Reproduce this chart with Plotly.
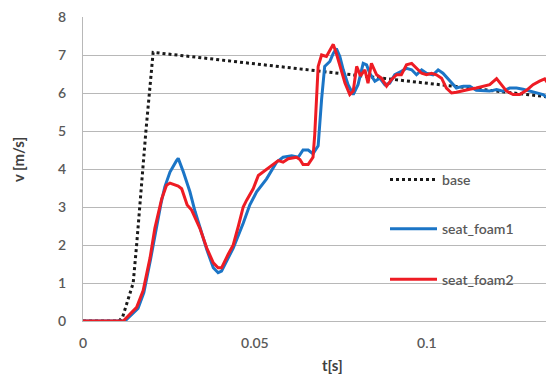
import plotly.graph_objects as go

# ---- data ----
base_t = [0.0, 0.0105, 0.0115, 0.0127, 0.0137, 0.0146, 0.0156, 0.0164, 0.0174, 0.0183, 0.0193, 0.0204, 0.137]
base_v = [0.0, 0.0, 0.1, 0.45, 0.75, 1.0, 2.0, 3.0, 4.0, 5.0, 6.0, 7.07, 5.88]

foam1_t = [0.0, 0.0122, 0.0160, 0.0177, 0.0196, 0.0212, 0.0227, 0.0238, 0.0253, 0.0272, 0.0277,
           0.0292, 0.0311, 0.0326, 0.0340, 0.0360, 0.0379, 0.0393, 0.0403, 0.0422, 0.0437, 0.0466,
           0.0485, 0.0505, 0.0534, 0.0563, 0.0582, 0.0607, 0.0626, 0.0640, 0.0655, 0.0669, 0.0684,
           0.0694, 0.0703, 0.0718, 0.0728, 0.0737, 0.0747, 0.0757, 0.0771, 0.0786, 0.0800, 0.0815,
           0.0825, 0.0834, 0.0849, 0.0863, 0.0878, 0.0892, 0.0907, 0.0926, 0.0941, 0.0956, 0.0970,
           0.0985, 0.0999, 0.1018, 0.1033, 0.1047, 0.1067, 0.1086, 0.1106, 0.1125, 0.1144, 0.1164,
           0.1183, 0.1203, 0.1222, 0.1241, 0.1261, 0.1280, 0.1299, 0.1319, 0.1338, 0.1352, 0.1367]
foam1_v = [0.0, 0.0, 0.33, 0.75, 1.6, 2.4, 3.1, 3.53, 3.92, 4.22, 4.28,
           3.92, 3.40, 2.88, 2.44, 1.88, 1.40, 1.27, 1.31, 1.66, 1.92, 2.57,
           3.05, 3.40, 3.74, 4.18, 4.31, 4.35, 4.31, 4.50, 4.50, 4.40, 4.61,
           5.83, 6.70, 6.83, 7.04, 7.17, 6.96, 6.61, 6.22, 5.96, 6.22, 6.78,
           6.74, 6.52, 6.31, 6.39, 6.22, 6.26, 6.48, 6.57, 6.65, 6.61, 6.48,
           6.61, 6.52, 6.48, 6.61, 6.52, 6.31, 6.13, 6.18, 6.18, 6.07, 6.05,
           6.05, 6.09, 6.05, 6.13, 6.13, 6.10, 6.05, 6.00, 5.96, 5.87, 5.70]

foam2_t = [0.0, 0.0117, 0.0156, 0.0175, 0.0195, 0.0209, 0.0229, 0.0243, 0.0253, 0.0277, 0.0287,
           0.0303, 0.0316, 0.0340, 0.0360, 0.0379, 0.0393, 0.0403, 0.0422, 0.0437, 0.0452, 0.0466, 0.0476,
           0.0495, 0.0510, 0.0534, 0.0568, 0.0582, 0.0597, 0.0621, 0.0631, 0.0640, 0.0655, 0.0669,
           0.0674, 0.0684, 0.0694, 0.0708, 0.0718, 0.0728, 0.0737, 0.0747, 0.0762, 0.0776, 0.0786,
           0.0796, 0.0807, 0.0820, 0.0829, 0.0839, 0.0854, 0.0868, 0.0883, 0.0897, 0.0912, 0.0926,
           0.0941, 0.0956, 0.0970, 0.0985, 0.0999, 0.1014, 0.1028, 0.1043, 0.1057, 0.1072, 0.1086,
           0.1106, 0.1125, 0.1144, 0.1164, 0.1183, 0.1203, 0.1217, 0.1232, 0.1251, 0.1270, 0.1290,
           0.1309, 0.1328, 0.1343, 0.1358, 0.1369]
foam2_v = [0.0, 0.0, 0.36, 0.80, 1.66, 2.44, 3.22, 3.57, 3.63, 3.55, 3.48,
           3.05, 2.92, 2.44, 1.92, 1.53, 1.40, 1.40, 1.75, 2.00, 2.50, 3.00, 3.18,
           3.48, 3.83, 4.00, 4.22, 4.18, 4.27, 4.31, 4.25, 4.12, 4.12, 4.31,
           4.90, 6.70, 7.00, 6.96, 7.13, 7.28, 7.04, 6.70, 6.26, 5.96, 6.05,
           6.70, 6.45, 6.61, 6.26, 6.78, 6.48, 6.39, 6.18, 6.35, 6.48, 6.48,
           6.74, 6.78, 6.65, 6.52, 6.48, 6.52, 6.48, 6.39, 6.13, 6.00, 6.02,
           6.07, 6.10, 6.13, 6.18, 6.22, 6.38, 6.22, 6.05, 5.96, 5.96, 6.07,
           6.22, 6.31, 6.37, 6.18, 6.02]

x_tickvals = [0, 0.05, 0.1]
x_ticktext = ["0", "0.05", "0.1"]
y_tickvals = [0, 1, 2, 3, 4, 5, 6, 7, 8]

FONT = "Lato"
TICK_COLOR = "#595959"
GRID = "#b8b8b8"

# the page puts the figure at an 8px offset, so the figure is 8px smaller
W, H = 546, 370
ML, MT, MB = 75, 5, 57
PW, PH = W - ML, H - MT - MB  # 471 x 308


def px_x(px):  # reference pixel -> paper x
    return (px - 8 - ML) / PW


def px_y(py):  # reference pixel -> paper y
    return (H - MB - (py - 8)) / PH


fig = go.Figure()
fig.add_trace(go.Scatter(x=base_t, y=base_v, name="base", mode="lines",
                         line=dict(color="#1a1a1a", width=3, dash="dot"), legend="legend"))
fig.add_trace(go.Scatter(x=foam1_t, y=foam1_v, name="seat_foam1", mode="lines",
                         line=dict(color="#1b75c6", width=3), legend="legend2"))
fig.add_trace(go.Scatter(x=foam2_t, y=foam2_v, name="seat_foam2", mode="lines",
                         line=dict(color="#ee1c24", width=3), legend="legend3"))

leg_common = dict(x=px_x(385), xanchor="left", yanchor="middle", bgcolor="rgba(255,255,255,0)",
                  font=dict(family=FONT, size=14, color=TICK_COLOR, weight=600), itemwidth=47,
                  borderwidth=0)
fig.update_layout(
    width=W, height=H,
    margin=dict(l=ML, r=0, t=MT, b=MB),
    paper_bgcolor="white", plot_bgcolor="white",
    showlegend=True,
    legend=dict(y=px_y(178), **leg_common),
    legend2=dict(y=px_y(228), **leg_common),
    legend3=dict(y=px_y(279), **leg_common),
    font=dict(family=FONT, size=14, color=TICK_COLOR),
)
fig.update_xaxes(range=[0, 0.137], tickvals=x_tickvals, ticktext=x_ticktext,
                 showgrid=False, zeroline=False, showline=True, linecolor=GRID, linewidth=1,
                 ticks="outside", ticklen=9, tickcolor="rgba(0,0,0,0)", ticklabeloverflow="allow",
                 tickfont=dict(family=FONT, size=14, color=TICK_COLOR, weight=600))
fig.update_yaxes(range=[0, 8], tickvals=y_tickvals,
                 showgrid=True, gridcolor=GRID, gridwidth=1, zeroline=False,
                 showline=True, linecolor=GRID, linewidth=1,
                 ticks="outside", ticklen=13, tickcolor="rgba(0,0,0,0)", ticklabeloverflow="allow",
                 tickfont=dict(family=FONT, size=14, color=TICK_COLOR, weight=600))

# white box of the legend area hiding grid lines (as in the reference)
fig.add_shape(type="rect", xref="paper", yref="paper", x0=px_x(353), x1=1.0,
              y0=px_y(302), y1=px_y(150), fillcolor="white", line=dict(width=0), layer="between")

fig.add_annotation(text="<b>v [m/s]</b>", xref="paper", yref="paper",
                   x=px_x(18), y=px_y(158), textangle=-90,
                   showarrow=False, xanchor="center", yanchor="middle",
                   font=dict(family=FONT, size=15, color="#404040"))
fig.add_annotation(text="<b>t[s]</b>", xref="paper", yref="paper",
                   x=px_x(332.5), y=px_y(366),
                   showarrow=False, xanchor="center", yanchor="middle",
                   font=dict(family=FONT, size=15, color="#404040"))

fig.write_html("out.html")
